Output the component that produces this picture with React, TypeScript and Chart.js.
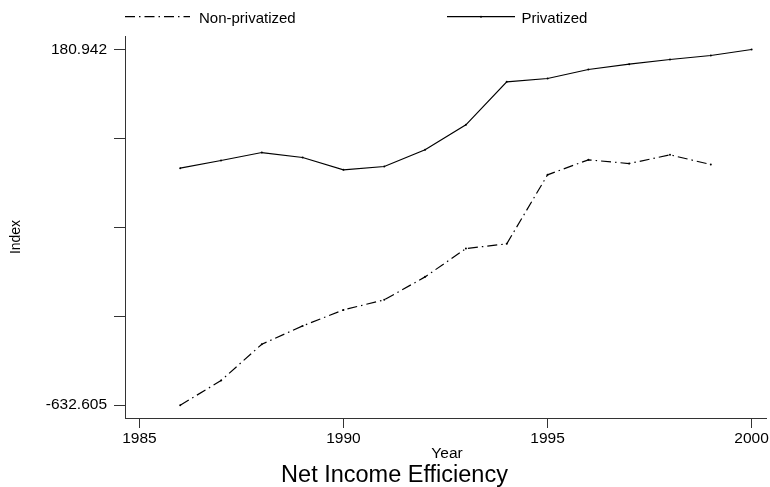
import { useEffect, useRef } from "react";
import { Chart, registerables } from "chart.js";

Chart.register(...registerables);

// Observation years and the two efficiency index series
const years = [1986, 1987, 1988, 1989, 1990, 1991, 1992, 1993, 1994, 1995, 1996, 1997, 1998, 1999, 2000];
const privatized = [-90.4, -73.0, -54.7, -66.1, -94.3, -86.7, -48.5, 8.7, 107.0, 114.6, 135.2, 147.5, 158.1, 167.2, 180.942];
const nonPrivatized = [-632.605, -576.3, -493.1, -451.2, -414.6, -391.7, -339.1, -274.3, -263.6, -105.7, -71.4, -79.9, -60.0, -82.2, null];

// Axis ticks: labelled extremes on y, every five years on x
const yTickEnds = [-632.605, 180.942];
const yTickCount = 5;
const xTickYears = [1985, 1990, 1995, 2000];

const FONT = '"Liberation Sans", Arial, Helvetica, sans-serif';
const INK = "#000";
const AXIS = "#333";

const toPoints = (vals: (number | null)[]) =>
  years
    .map((x, i) => ({ x, y: vals[i] }))
    .filter((p) => p.y !== null) as { x: number; y: number }[];

const yLo = yTickEnds[0];
const yHi = yTickEnds[1];
const ySpan = yHi - yLo;
const yTickValues = Array.from({ length: yTickCount }, (_, i) =>
  i === yTickCount - 1 ? yHi : yLo + (ySpan * i) / (yTickCount - 1)
);
const yPad = ySpan * 0.036;
const xPad = (xTickYears[xTickYears.length - 1] - xTickYears[0]) * 0.0235;

const DASH_DOT = [10, 4, 1.5, 4];

const annotations = {
  id: "annotations",
  beforeDraw(chart: Chart) {
    const ctx = chart.ctx;
    ctx.save();
    ctx.fillStyle = "#fff";
    ctx.fillRect(0, 0, chart.width, chart.height);
    ctx.restore();
  },
  afterDraw(chart: Chart) {
    const ctx = chart.ctx;
    ctx.save();
    ctx.fillStyle = INK;
    ctx.strokeStyle = INK;
    ctx.lineWidth = 1.2;

    // Legend
    const ly = 16.7;
    ctx.setLineDash(DASH_DOT);
    ctx.beginPath();
    ctx.moveTo(125, ly);
    ctx.lineTo(190, ly);
    ctx.stroke();
    ctx.setLineDash([]);
    ctx.beginPath();
    ctx.moveTo(447, ly);
    ctx.lineTo(515, ly);
    ctx.stroke();
    ctx.beginPath();
    ctx.arc(481, ly, 1, 0, Math.PI * 2);
    ctx.fill();

    ctx.font = `15px ${FONT}`;
    ctx.textAlign = "left";
    ctx.textBaseline = "alphabetic";
    ctx.fillText("Non-privatized", 199, 22.5);
    ctx.fillText("Privatized", 521.5, 22.5);

    // Axis titles
    ctx.font = `15.5px ${FONT}`;
    ctx.textAlign = "center";
    ctx.fillText("Year", 447, 458.3);

    ctx.save();
    ctx.translate(20, 237);
    ctx.rotate(-Math.PI / 2);
    ctx.font = `14px ${FONT}`;
    ctx.textBaseline = "alphabetic";
    ctx.fillText("Index", 0, 0);
    ctx.restore();

    // Chart title
    ctx.font = `23.5px ${FONT}`;
    ctx.textAlign = "center";
    ctx.fillText("Net Income Efficiency", 394.5, 481.5);
    ctx.restore();
  },
};

export default function App() {
  const canvasRef = useRef<HTMLCanvasElement | null>(null);

  useEffect(() => {
    const canvas = canvasRef.current;
    if (!canvas) return;
    const chart = new Chart(canvas, {
      type: "line",
      data: {
        datasets: [
          {
            label: "Non-privatized",
            data: toPoints(nonPrivatized),
            borderColor: INK,
            borderWidth: 1.2,
            borderDash: DASH_DOT,
            pointRadius: 1,
            pointBackgroundColor: INK,
            pointBorderWidth: 0,
            tension: 0,
          },
          {
            label: "Privatized",
            data: toPoints(privatized),
            borderColor: INK,
            borderWidth: 1.2,
            pointRadius: 1,
            pointBackgroundColor: INK,
            pointBorderWidth: 0,
            tension: 0,
          },
        ],
      },
      options: {
        responsive: false,
        animation: false,
        events: [],
        layout: { padding: { top: 36.7, right: 0, left: 0, bottom: 0 } },
        plugins: {
          legend: { display: false },
          title: { display: false },
          tooltip: { enabled: false },
        },
        scales: {
          x: {
            type: "linear",
            min: xTickYears[0] - xPad,
            max: xTickYears[xTickYears.length - 1] + xPad,
            afterBuildTicks: (scale: any) => {
              scale.ticks = xTickYears.map((v) => ({ value: v }));
            },
            afterFit: (scale: any) => {
              scale.height = 69;
              scale.paddingLeft = 0;
              scale.paddingRight = 0;
            },
            grid: {
              drawOnChartArea: false,
              drawTicks: true,
              tickLength: 10,
              color: AXIS,
              lineWidth: 1,
            },
            border: { display: true, color: AXIS, width: 1 },
            ticks: {
              autoSkip: false,
              maxRotation: 0,
              padding: 1,
              color: INK,
              font: { family: FONT, size: 15.5 },
              callback: (v: any) => String(v),
            },
          },
          y: {
            type: "linear",
            min: yLo - yPad,
            max: yHi + yPad,
            afterBuildTicks: (scale: any) => {
              scale.ticks = yTickValues.map((v) => ({ value: v }));
            },
            afterFit: (scale: any) => {
              scale.width = 125;
              scale.paddingTop = 0;
              scale.paddingBottom = 0;
            },
            grid: {
              drawOnChartArea: false,
              drawTicks: true,
              tickLength: 11,
              color: AXIS,
              lineWidth: 1,
            },
            border: { display: true, color: AXIS, width: 1 },
            ticks: {
              autoSkip: false,
              padding: 7,
              color: INK,
              font: { family: FONT, size: 15.5 },
              callback: (_v: any, i: number) =>
                i === 0 ? String(yTickEnds[0]) : i === yTickCount - 1 ? String(yTickEnds[1]) : "",
            },
          },
        },
      },
      plugins: [annotations],
    });
    return () => chart.destroy();
  }, []);

  return (
    <div style={{ position: "fixed", left: 0, top: 0, width: 770, height: 487, background: "#fff" }}>
      <canvas ref={canvasRef} width={770} height={487} style={{ width: 770, height: 487, display: "block" }} />
    </div>
  );
}
